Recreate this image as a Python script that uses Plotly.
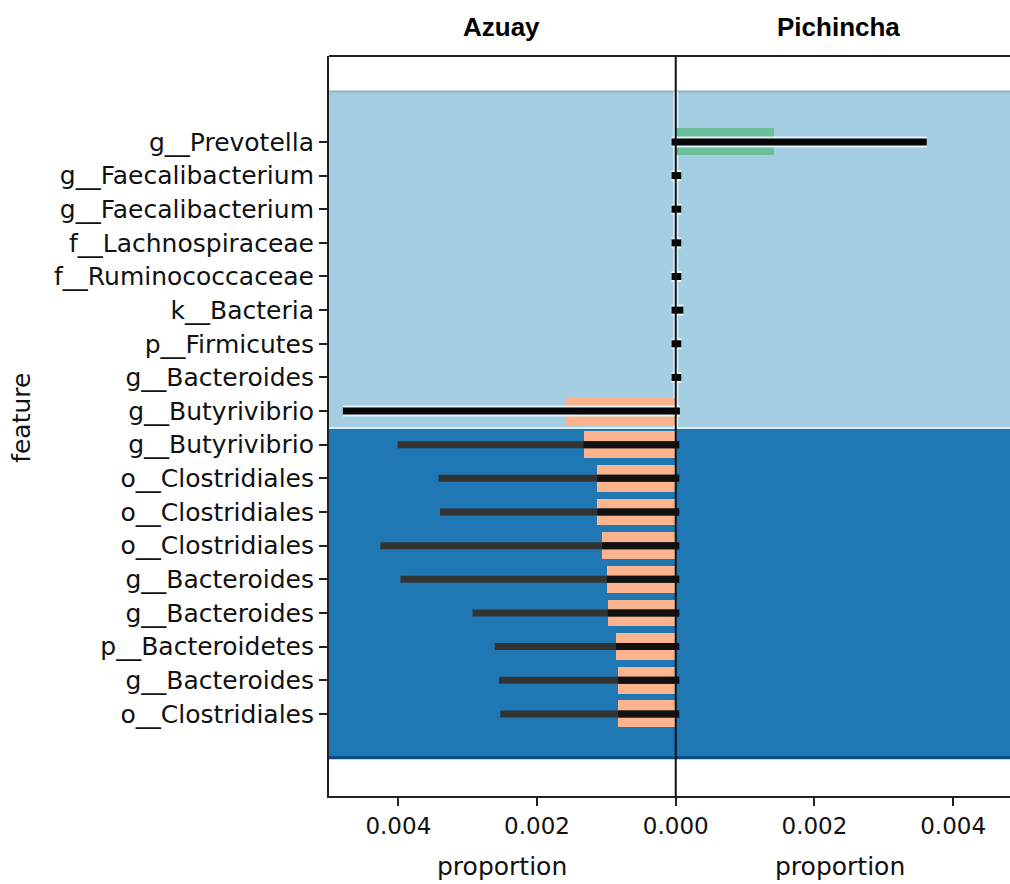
import plotly.graph_objects as go

# ---------------- data ----------------
features = [
    "g__Prevotella", "g__Faecalibacterium", "g__Faecalibacterium", "f__Lachnospiraceae",
    "f__Ruminococcaceae", "k__Bacteria", "p__Firmicutes", "g__Bacteroides",
    "g__Butyrivibrio", "g__Butyrivibrio", "o__Clostridiales", "o__Clostridiales",
    "o__Clostridiales", "g__Bacteroides", "g__Bacteroides", "p__Bacteroidetes",
    "g__Bacteroides", "o__Clostridiales",
]
# mean proportion drawn as a bar (Azuay to the left, Pichincha to the right)
azuay_mean = [0, 0, 0, 0, 0, 0, 0, 0, 0.00159, 0.00133, 0.00113, 0.00113,
              0.00106, 0.00099, 0.00098, 0.00086, 0.00083, 0.00083]
pichincha_mean = [0.00141, 0, 0, 0, 0, 0, 0, 0, 0, 0, 0, 0, 0, 0, 0, 0, 0, 0]
# interval ends (Azuay side extent, Pichincha side extent)
ci_azuay = [0.00006, 0.00006, 0.00006, 0.00006, 0.00006, 0.00006, 0.00006, 0.00006,
            0.00480, 0.00401, 0.00342, 0.00340, 0.00426, 0.00397, 0.00293,
            0.00261, 0.00255, 0.00253]
ci_pichincha = [0.00362, 0.00008, 0.00008, 0.00008, 0.00008, 0.00011, 0.00008, 0.00008,
                0.00006, 0.00005, 0.00005, 0.00005, 0.00005, 0.00005, 0.00005,
                0.00005, 0.00005, 0.00005]
groups = ["Azuay", "Pichincha"]
tick_vals = [-0.004, -0.002, 0.0, 0.002, 0.004]
tick_text = ["0.004", "0.002", "0.000", "0.002", "0.004"]

n = len(features)
rows = list(range(n))
upper_rows = rows[:9]
lower_rows = rows[9:]

LIGHT = "#a6cee3"
DARK = "#1f78b4"
SALMON = "#fcb48e"
GREEN = "#6dbf9c"


def segs(idx, lo, hi):
    xs, ys = [], []
    for i in idx:
        xs += [lo[i], hi[i], None]
        ys += [i, i, None]
    return xs, ys


fig = go.Figure()

# bars
fig.add_trace(go.Bar(y=rows, x=[-v for v in azuay_mean], orientation="h", width=0.8,
                     marker=dict(color=SALMON, line=dict(width=0)), showlegend=False))
fig.add_trace(go.Bar(y=rows, x=pichincha_mean, orientation="h", width=0.8,
                     marker=dict(color=GREEN, line=dict(width=0)), showlegend=False))

neg_ci = [-v for v in ci_azuay]
# upper rows: halo + black line
xs, ys = segs(upper_rows, neg_ci, ci_pichincha)
fig.add_trace(go.Scatter(x=xs, y=ys, mode="lines", line=dict(color="#dff3fb", width=11),
                         showlegend=False, hoverinfo="skip"))
fig.add_trace(go.Scatter(x=xs, y=ys, mode="lines", line=dict(color="#050505", width=7),
                         showlegend=False))
# lower rows: dark grey line, black where it crosses the bar
xs, ys = segs(lower_rows, neg_ci, ci_pichincha)
fig.add_trace(go.Scatter(x=xs, y=ys, mode="lines", line=dict(color="#333333", width=7),
                         showlegend=False))
neg_mean = [-v for v in azuay_mean]
xs, ys = segs(lower_rows, neg_mean, ci_pichincha)
fig.add_trace(go.Scatter(x=xs, y=ys, mode="lines", line=dict(color="#111111", width=7),
                         showlegend=False, hoverinfo="skip"))

shapes = [
    dict(type="rect", xref="paper", yref="y", x0=0, x1=1, y0=-1.5, y1=8.5,
         fillcolor=LIGHT, line=dict(width=0), layer="below"),
    dict(type="rect", xref="paper", yref="y", x0=0, x1=1, y0=8.5, y1=18.3,
         fillcolor=DARK, line=dict(width=0), layer="below"),
    dict(type="line", xref="paper", yref="y", x0=0, x1=1, y0=-1.5, y1=-1.5,
         line=dict(color="#8db4c8", width=2), layer="below"),
    dict(type="line", xref="paper", yref="y", x0=0, x1=1, y0=8.5, y1=8.5,
         line=dict(color="#dcf0f8", width=2), layer="below"),
    dict(type="line", xref="paper", yref="y", x0=0, x1=1, y0=18.3, y1=18.3,
         line=dict(color="#0b4a80", width=3), layer="below"),
    # zero line halo in light band + zero line
    dict(type="line", xref="x", yref="y", x0=0, x1=0, y0=-1.5, y1=8.5,
         line=dict(color="#dcf0f8", width=5), layer="below"),
    dict(type="line", xref="x", yref="paper", x0=0, x1=0, y0=0, y1=1,
         line=dict(color="#111111", width=2), layer="above"),
    # top spine
    dict(type="line", xref="paper", yref="paper", x0=0, x1=1, y0=1, y1=1,
         line=dict(color="#222222", width=2)),
]

annotations = [
    dict(text="<b>" + groups[0] + "</b>", x=0.2526, y=1.039, xref="paper", yref="paper",
         showarrow=False, xanchor="center", yanchor="middle",
         font=dict(family="Liberation Sans, Arial", size=26, color="black")),
    dict(text="<b>" + groups[1] + "</b>", x=0.748, y=1.039, xref="paper", yref="paper",
         showarrow=False, xanchor="center", yanchor="middle",
         font=dict(family="Liberation Sans, Arial", size=26, color="black")),
    dict(text="proportion", x=0.254, y=-0.0946, xref="paper", yref="paper",
         showarrow=False, xanchor="center", yanchor="middle",
         font=dict(family="DejaVu Sans", size=25, color="#111")),
    dict(text="proportion", x=0.750, y=-0.0946, xref="paper", yref="paper",
         showarrow=False, xanchor="center", yanchor="middle",
         font=dict(family="DejaVu Sans", size=25, color="#111")),
    dict(text="feature", x=-0.4508, y=0.511, xref="paper", yref="paper",
         showarrow=False, xanchor="center", yanchor="middle", textangle=-90,
         font=dict(family="DejaVu Sans", size=25, color="#111")),
]

fig.update_layout(
    width=1010, height=884,
    margin=dict(l=329, r=0, t=56, b=88),
    paper_bgcolor="white", plot_bgcolor="white",
    barmode="overlay", bargap=0,
    shapes=shapes, annotations=annotations,
    showlegend=False,
    xaxis=dict(range=[-0.005, 0.00482], tickvals=tick_vals, ticktext=tick_text,
               showgrid=False, zeroline=False, showline=True, linecolor="#222", linewidth=2,
               ticks="outside", ticklen=8, tickcolor="#222", tickwidth=2,
               tickfont=dict(family="DejaVu Sans", size=23, color="#111")),
    yaxis=dict(range=[19.44, -2.553], tickvals=rows, ticktext=features,
               showgrid=False, zeroline=False, showline=True, linecolor="#222", linewidth=2,
               ticks="outside", ticklen=8, tickcolor="#222", tickwidth=1.5,
               tickfont=dict(family="DejaVu Sans", size=25, color="#111")),
)

fig.write_html("out.html")
